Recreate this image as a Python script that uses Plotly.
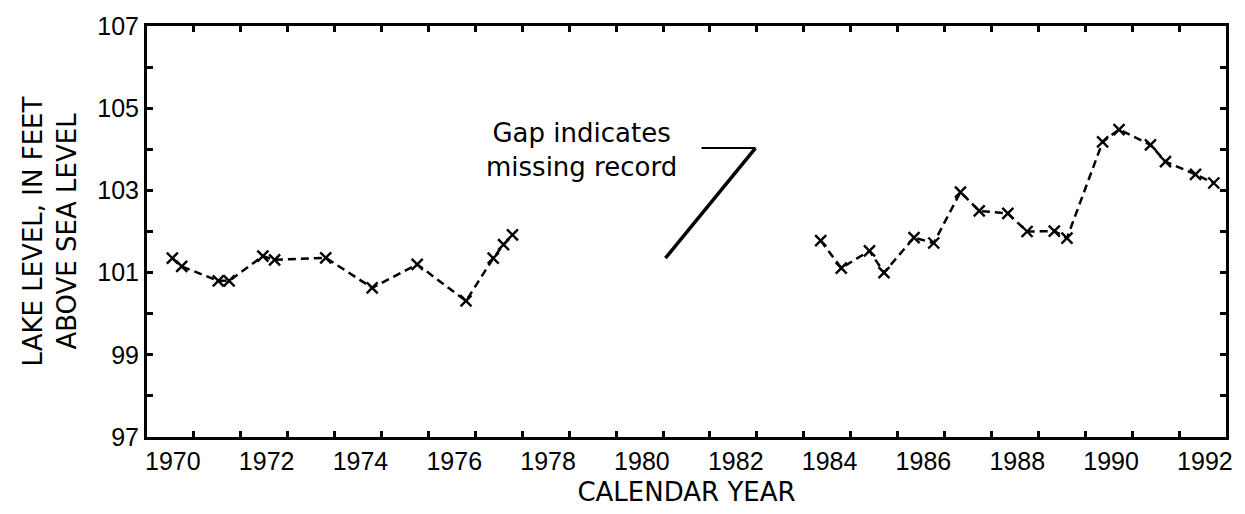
import plotly.graph_objects as go

# ---- data ----
years_a = [1970.54, 1970.74, 1971.52, 1971.75, 1972.47, 1972.72, 1973.81, 1974.80,
           1975.76, 1976.80, 1977.38, 1977.60, 1977.79]
level_a = [101.35, 101.15, 100.80, 100.80, 101.40, 101.31, 101.36, 100.63,
           101.20, 100.31, 101.35, 101.68, 101.92]

years_b = [1984.36, 1984.80, 1985.40, 1985.71, 1986.35, 1986.77, 1987.34, 1987.74,
           1988.35, 1988.76, 1989.34, 1989.61, 1990.37, 1990.72, 1991.39, 1991.71,
           1992.35, 1992.74]
level_b = [101.78, 101.11, 101.53, 101.00, 101.85, 101.72, 102.96, 102.50,
           102.44, 102.00, 102.01, 101.84, 104.18, 104.48, 104.11, 103.70,
           103.39, 103.18]

x_tick_years = [1970, 1972, 1974, 1976, 1978, 1980, 1982, 1984, 1986, 1988, 1990, 1992]
y_tick_vals = [97, 99, 101, 103, 105, 107]

FONT = "Liberation Sans, Arial, Helvetica, sans-serif"
TFONT = "DejaVu Sans, Liberation Sans, sans-serif"

fig = go.Figure()
for xs, ys in [(years_a, level_a), (years_b, level_b)]:
    fig.add_trace(go.Scatter(
        x=xs, y=ys, mode="lines+markers",
        line=dict(color="black", width=2.5, dash="8px,5px"),
        marker=dict(symbol="x-thin", size=11, color="black",
                    line=dict(color="black", width=2.4)),
        showlegend=False, hoverinfo="skip"))

# leader line for the gap note
fig.add_shape(type="line", xref="x", yref="y", x0=1981.82, y0=104.03, x1=1982.97, y1=104.03,
              line=dict(color="black", width=2))
fig.add_shape(type="line", xref="x", yref="y", x0=1982.97, y0=104.03, x1=1981.05, y1=101.35,
              line=dict(color="black", width=3.5))

fig.add_annotation(x=1979.27, y=103.99, xref="x", yref="y",
                   text="Gap indicates<br>missing record", showarrow=False,
                   align="center", font=dict(family=TFONT, size=26, color="black"))

fig.update_xaxes(
    range=[1970, 1993],
    tickmode="array",
    tickvals=[y + 0.55 for y in x_tick_years],
    ticktext=[str(y) for y in x_tick_years],
    ticks="inside", ticklen=0,
    minor=dict(tick0=1970, dtick=1, ticks="inside", ticklen=6, tickwidth=2.5, tickcolor="black"),
    showline=True, linecolor="black", linewidth=3, mirror="ticks",
    showgrid=False, zeroline=False,
    tickfont=dict(family=FONT, size=25, color="black"),
    title=dict(text="CALENDAR YEAR", font=dict(family=TFONT, size=26, color="black"), standoff=9),
)
fig.update_yaxes(
    range=[97, 107],
    tickmode="array",
    tickvals=y_tick_vals,
    ticktext=[str(v) for v in y_tick_vals],
    ticks="inside", ticklen=6, tickwidth=2.5, tickcolor="black",
    minor=dict(tick0=97, dtick=1, ticks="inside", ticklen=6, tickwidth=2.5, tickcolor="black"),
    showline=True, linecolor="black", linewidth=3, mirror="ticks",
    showgrid=False, zeroline=False,
    tickfont=dict(family=FONT, size=25, color="black"),
    title=dict(text="LAKE LEVEL, IN FEET<br>ABOVE SEA LEVEL",
               font=dict(family=TFONT, size=26, color="black"), standoff=14),
)

fig.update_layout(
    width=1245, height=514,
    margin=dict(l=147, r=16, t=22, b=74),
    paper_bgcolor="white", plot_bgcolor="white",
)

fig.write_html("out.html")
